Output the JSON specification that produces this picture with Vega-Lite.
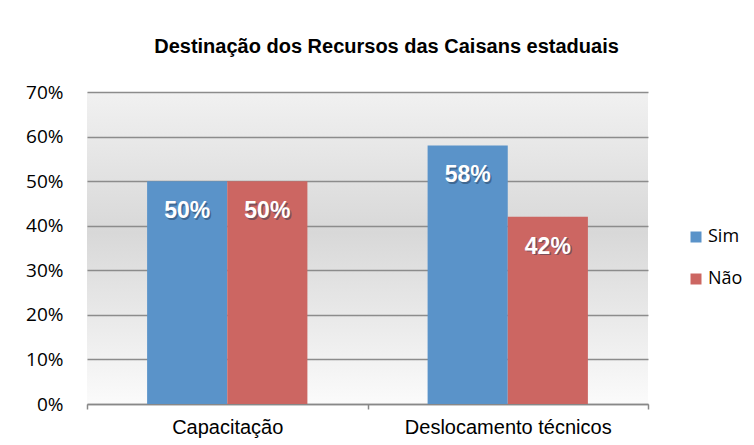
{
  "$schema": "https://vega.github.io/schema/vega-lite/v6.json",
  "width": 561,
  "height": 312,
  "autosize": {"type": "none"},
  "padding": {"left": 87, "top": 92, "right": 106, "bottom": 41},
  "background": "white",
  "title": {
    "text": "Destinação dos Recursos das Caisans estaduais",
    "font": "Liberation Sans",
    "fontSize": 20,
    "fontWeight": "bold",
    "color": "#000000",
    "anchor": "middle",
    "dx": 19,
    "offset": 26
  },
  "config": {
    "view": {
      "stroke": null,
      "fill": {
        "gradient": "linear",
        "x1": 0, "y1": 0, "x2": 0, "y2": 1,
        "stops": [
          {"offset": 0, "color": "#f1f1f1"},
          {"offset": 0.45, "color": "#d8d8d8"},
          {"offset": 1, "color": "#fbfbfb"}
        ]
      }
    }
  },
  "data": {
    "values": [
      {"categoria": "Capacitação", "resposta": "Sim", "valor": 0.50},
      {"categoria": "Capacitação", "resposta": "Não", "valor": 0.50},
      {"categoria": "Deslocamento técnicos", "resposta": "Sim", "valor": 0.58},
      {"categoria": "Deslocamento técnicos", "resposta": "Não", "valor": 0.42}
    ]
  },
  "encoding": {
    "x": {
      "field": "categoria",
      "type": "nominal",
      "sort": null,
      "title": null,
      "scale": {"paddingInner": 0, "paddingOuter": 0},
      "axis": {
        "labelAngle": 0,
        "labelFont": "Liberation Sans",
        "labelFontSize": 20,
        "labelColor": "#000000",
        "labelPadding": 8,
        "labelLimit": 0,
        "domainColor": "#888888",
        "domainWidth": 1.5,
        "tickColor": "#888888",
        "tickWidth": 1.5,
        "tickSize": 5,
        "tickBand": "extent"
      }
    },
    "xOffset": {
      "field": "resposta",
      "type": "nominal",
      "sort": ["Sim", "Não"],
      "scale": {"paddingInner": 0, "paddingOuter": 0.75}
    },
    "y": {
      "field": "valor",
      "type": "quantitative",
      "title": null,
      "scale": {"domain": [0, 0.7], "nice": false},
      "axis": {
        "values": [0, 0.1, 0.2, 0.3, 0.4, 0.5, 0.6, 0.7],
        "format": ".0%",
        "labelFont": "Open Sans",
        "labelFontSize": 19,
        "labelColor": "#000000",
        "labelPadding": 24,
        "ticks": false,
        "domain": false,
        "grid": true,
        "gridColor": "#8c8c8c",
        "gridWidth": 1.5
      }
    }
  },
  "layer": [
    {
      "mark": {"type": "bar"},
      "encoding": {
        "color": {
          "field": "resposta",
          "type": "nominal",
          "sort": ["Sim", "Não"],
          "scale": {"domain": ["Sim", "Não"], "range": ["#5A93C9", "#CC6662"]},
          "legend": {
            "title": null,
            "orient": "none",
            "legendX": 600,
            "legendY": 136,
            "symbolType": "square",
            "symbolSize": 121,
            "symbolStrokeWidth": 0,
            "labelFont": "Open Sans",
            "labelFontSize": 18,
            "labelColor": "#000000",
            "labelOffset": 3,
            "rowPadding": 24
          }
        }
      }
    },
    {
      "mark": {"type": "text", "baseline": "middle", "align": "center", "dx": 1.5, "dy": 31.5, "font": "Liberation Sans", "fontSize": 23, "fontWeight": "bold", "color": "#1f3550", "opacity": 0.45},
      "encoding": {"text": {"field": "valor", "type": "quantitative", "format": ".0%"}}
    },
    {
      "mark": {"type": "text", "baseline": "middle", "align": "center", "dy": 30, "font": "Liberation Sans", "fontSize": 23, "fontWeight": "bold", "color": "#ffffff"},
      "encoding": {"text": {"field": "valor", "type": "quantitative", "format": ".0%"}}
    }
  ]
}
